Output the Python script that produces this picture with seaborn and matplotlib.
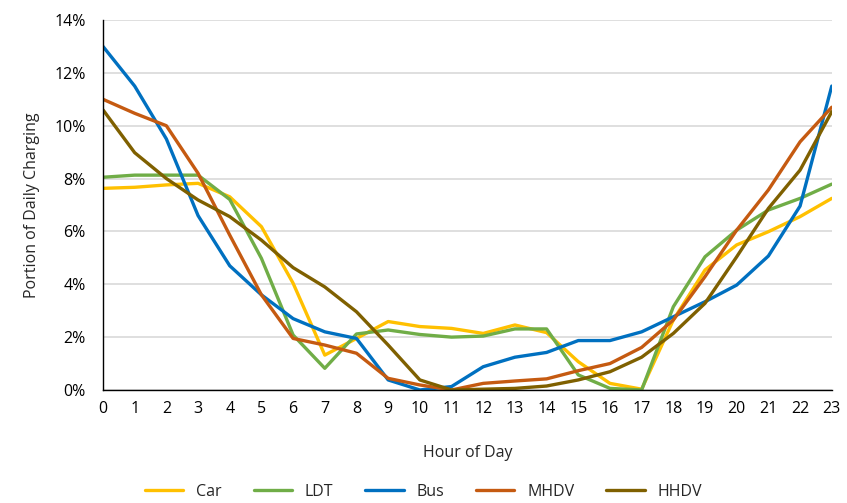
import numpy as np
import pandas as pd
import seaborn as sns
import matplotlib.pyplot as plt
from matplotlib.ticker import PercentFormatter

hours = list(range(24))
car = [7.63, 7.67, 7.76, 7.82, 7.31, 6.18, 4.04, 1.32, 1.95, 2.59, 2.40, 2.33,
       2.14, 2.46, 2.17, 1.07, 0.25, 0.03, 2.65, 4.54, 5.49, 5.99, 6.56, 7.25]
ldt = [8.05, 8.13, 8.13, 8.13, 7.21, 4.98, 2.08, 0.82, 2.12, 2.27, 2.10, 2.00,
       2.04, 2.31, 2.31, 0.57, 0.06, 0.00, 3.15, 5.04, 6.05, 6.81, 7.25, 7.79]
bus = [13.0, 11.5, 9.5, 6.6, 4.7, 3.6, 2.7, 2.2, 1.95, 0.38, 0.0, 0.13,
       0.88, 1.24, 1.42, 1.87, 1.87, 2.2, 2.77, 3.34, 3.97, 5.07, 6.96, 11.5]
mhdv = [11.0, 10.47, 10.0, 8.2, 5.86, 3.6, 1.95, 1.7, 1.39, 0.44, 0.19, 0.0,
        0.25, 0.34, 0.42, 0.73, 1.0, 1.61, 2.65, 4.29, 6.05, 7.57, 9.39, 10.7]
hhdv = [10.6, 8.98, 8.0, 7.19, 6.56, 5.67, 4.63, 3.9, 2.96, 1.7, 0.38, 0.0,
        0.03, 0.06, 0.15, 0.38, 0.69, 1.24, 2.14, 3.28, 5.04, 6.87, 8.32, 10.53]

series = {"Car": car, "LDT": ldt, "Bus": bus, "MHDV": mhdv, "HHDV": hhdv}
colors = ["#FFC000", "#70AD47", "#0070C0", "#C55A11", "#7F6000"]

df = pd.concat([pd.DataFrame({"Hour": hours, "Share": v, "Vehicle": k})
                for k, v in series.items()], ignore_index=True)

sns.set_style("white")
plt.rcParams["font.family"] = ["Open Sans", "DejaVu Sans"]

fig = plt.figure(figsize=(8.47, 5.03), dpi=100)
ax = fig.add_axes([0.1216, 0.2247, 0.8604, 0.7355])

sns.lineplot(data=df, x="Hour", y="Share", hue="Vehicle", palette=colors,
             linewidth=2.4, ax=ax)

ax.set_xlim(0, 23)
ax.set_ylim(0, 14)
ax.set_xticks(hours)
ax.set_yticks(np.arange(0, 15, 2))
ax.yaxis.set_major_formatter(PercentFormatter(decimals=0))
ax.grid(axis="y", color="#d9d9d9", linewidth=1.2)
ax.set_axisbelow(True)
for s in ["top", "right"]:
    ax.spines[s].set_visible(False)
for s in ["left", "bottom"]:
    ax.spines[s].set_color("black")
    ax.spines[s].set_linewidth(1.0)
ax.tick_params(axis="both", direction="out", length=4.5, width=1, colors="black",
               labelsize=11.5)
ax.tick_params(axis="y", pad=8)

ax.set_xlabel("Hour of Day", fontsize=11.5, labelpad=20)
ax.set_ylabel("Portion of Daily Charging", fontsize=11.5, labelpad=10)

# legend centred under the whole figure
handles, labels = ax.get_legend_handles_labels()
ax.get_legend().remove()
fig.legend(handles, labels, loc="center", bbox_to_anchor=(0.5, 0.022), ncol=5,
           frameon=False, fontsize=11.5, handlelength=2.4, handletextpad=0.8,
           columnspacing=2.0)

fig.savefig("out.png", dpi=100)
